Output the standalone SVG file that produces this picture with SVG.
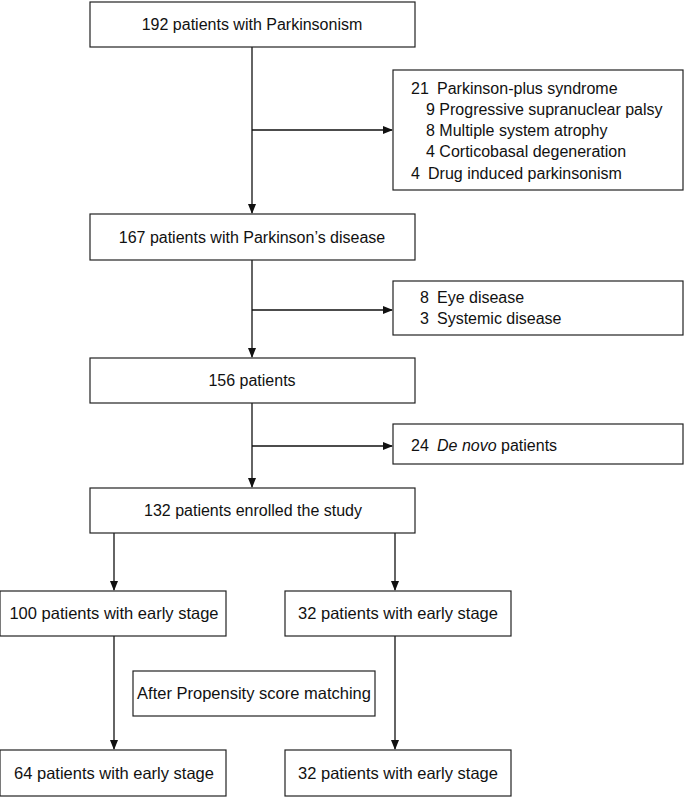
<svg xmlns="http://www.w3.org/2000/svg" width="685" height="797" viewBox="0 0 685 797">
<style>
.box{fill:#fff;stroke:#222;stroke-width:1.2}
.t{font-family:"Liberation Sans",Arial,sans-serif;font-size:16px;fill:#111}
.b{font-size:16.5px}
.c{text-anchor:middle}
.ln{stroke:#111;stroke-width:1.3;fill:none}
</style>
<defs>
<marker id="ah" markerWidth="10" markerHeight="10" refX="9" refY="5" orient="auto" markerUnits="userSpaceOnUse">
<path d="M0,1 L10,5 L0,9 Z" fill="#111"/>
</marker>
</defs>
<g id="connectors">
<line class="ln" x1="252" y1="47" x2="252" y2="213" marker-end="url(#ah)"/>
<line class="ln" x1="252" y1="130" x2="392" y2="130" marker-end="url(#ah)"/>
<line class="ln" x1="252" y1="260" x2="252" y2="357" marker-end="url(#ah)"/>
<line class="ln" x1="252" y1="310" x2="392" y2="310" marker-end="url(#ah)"/>
<line class="ln" x1="252" y1="403" x2="252" y2="487" marker-end="url(#ah)"/>
<line class="ln" x1="252" y1="446" x2="392" y2="446" marker-end="url(#ah)"/>
<line class="ln" x1="114" y1="533" x2="114" y2="590" marker-end="url(#ah)"/>
<line class="ln" x1="395" y1="533" x2="395" y2="590" marker-end="url(#ah)"/>
<line class="ln" x1="114" y1="636" x2="114" y2="749" marker-end="url(#ah)"/>
<line class="ln" x1="395" y1="636" x2="395" y2="749" marker-end="url(#ah)"/>
</g>
<g id="n1"><rect class="box" x="90" y="2" width="325" height="45"/><text class="t c" x="252" y="30">192 patients with Parkinsonism</text></g>
<g id="sA"><rect class="box" x="393" y="70" width="290" height="120"/>
<text class="t" y="94"><tspan x="411">21</tspan><tspan x="437">Parkinson-plus syndrome</tspan></text>
<text class="t" x="426" y="115">9 Progressive supranuclear palsy</text>
<text class="t" x="426" y="136">8 Multiple system atrophy</text>
<text class="t" x="426" y="157">4 Corticobasal degeneration</text>
<text class="t" y="179"><tspan x="411">4</tspan><tspan x="428">Drug induced parkinsonism</tspan></text>
</g>
<g id="n2"><rect class="box" x="90" y="214" width="325" height="46"/><text class="t c" x="252" y="243">167 patients with Parkinson’s disease</text></g>
<g id="sB"><rect class="box" x="393" y="281" width="290" height="54"/>
<text class="t" y="303"><tspan x="420">8</tspan><tspan x="437">Eye disease</tspan></text>
<text class="t" y="324"><tspan x="420">3</tspan><tspan x="437">Systemic disease</tspan></text>
</g>
<g id="n3"><rect class="box" x="90" y="358" width="325" height="45"/><text class="t c" x="252" y="386">156 patients</text></g>
<g id="sC"><rect class="box" x="393" y="424" width="290" height="40"/>
<text class="t" y="451"><tspan x="411">24</tspan><tspan x="437" font-style="italic">De novo</tspan><tspan> patients</tspan></text>
</g>
<g id="n4"><rect class="box" x="90" y="488" width="325" height="45"/><text class="t c" x="253" y="516">132 patients enrolled the study</text></g>
<g id="n5"><rect class="box" x="0" y="591" width="226" height="45"/><text class="t b c" x="114" y="619">100 patients with early stage</text></g>
<g id="n6"><rect class="box" x="285" y="591" width="226" height="45"/><text class="t b c" x="398" y="619">32 patients with early stage</text></g>
<g id="n7"><rect class="box" x="133" y="671" width="242" height="45"/><text class="t b c" x="254" y="699">After Propensity score matching</text></g>
<g id="n8"><rect class="box" x="0" y="750" width="226" height="46"/><text class="t b c" x="114" y="779">64 patients with early stage</text></g>
<g id="n9"><rect class="box" x="285" y="750" width="226" height="46"/><text class="t b c" x="398" y="779">32 patients with early stage</text></g>
</svg>
